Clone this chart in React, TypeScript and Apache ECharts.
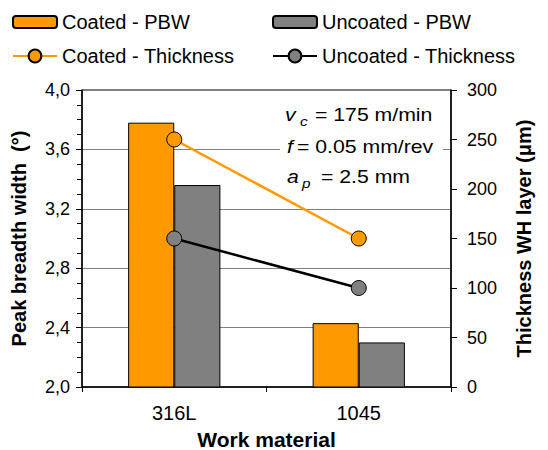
import React, { useEffect, useRef } from "react";
import * as echarts from "echarts";

const categories = ["316L", "1045"];
const coatedPBW = [3.78, 2.43];
const uncoatedPBW = [3.36, 2.3];
const coatedThickness = [250, 150];
const uncoatedThickness = [150, 100];

const FONT = "'Liberation Sans', Arial, sans-serif";
const ORANGE = "#FF9900";
const GRAY = "#808080";
const SX = 1.18;

export default function App() {
  const ref = useRef<HTMLDivElement>(null);
  useEffect(() => {
    if (!ref.current) return;
    document.body.style.margin = "0";
    const chart = echarts.init(ref.current, undefined, { renderer: "svg" });
    const legendText = { fontFamily: FONT, fontSize: 20, color: "#000" };
    const mkLegend = (name: string, left: number, top: number, h: number) => ({
      data: [name],
      left,
      top,
      padding: 0,
      itemWidth: 44,
      itemHeight: h,
      itemGap: 0,
      selectedMode: false,
      textStyle: legendText,
    });
    const txt = (x: number, y: number, text: string, font: string) => ({
      type: "text",
      x,
      y,
      scaleX: SX,
      z: 10,
      style: { text, font, fill: "#000", verticalAlign: "middle", align: "left" },
    });
    chart.setOption({
      animation: false,
      textStyle: { fontFamily: FONT },
      legend: [
        mkLegend("Coated - PBW", 12, 12, 12),
        mkLegend("Uncoated - PBW", 272, 12, 12),
        mkLegend("Coated - Thickness", 12, 46, 16),
        mkLegend("Uncoated - Thickness", 272, 46, 16),
      ],
      grid: {
        left: 82,
        right: 97,
        top: 90,
        bottom: 63,
        outerBoundsMode: "none",
        containLabel: false,
        show: true,
        borderColor: "#000",
        borderWidth: 1,
        backgroundColor: "transparent",
      },
      xAxis: {
        type: "category",
        data: categories,
        name: "Work material",
        nameLocation: "middle",
        nameGap: 43,
        nameTextStyle: { fontFamily: FONT, fontSize: 21, lineHeight: 19, fontWeight: "bold", color: "#000" },
        axisLine: { lineStyle: { color: "#000", width: 1.5 } },
        axisTick: { show: true, length: 5, lineStyle: { color: "#000" } },
        axisLabel: { fontFamily: FONT, fontSize: 20, color: "#000", margin: 16 },
      },
      yAxis: [
        {
          type: "value",
          min: 2,
          max: 4,
          interval: 0.4,
          name: "Peak breadth width  (°)",
          nameLocation: "middle",
          nameRotate: 90,
          nameGap: 53,
          nameTextStyle: { fontFamily: FONT, fontSize: 20, fontWeight: "bold", color: "#000" },
          axisLine: { show: true, lineStyle: { color: "#000", width: 1.5 } },
          axisTick: { show: true, length: 6, lineStyle: { color: "#000" } },
          minorTick: { show: true, splitNumber: 4, length: 5, lineStyle: { color: "#000" } },
          axisLabel: {
            fontFamily: FONT,
            fontSize: 18,
            color: "#000",
            margin: 12,
            formatter: (v: number) => v.toFixed(1).replace(".", ","),
          },
          splitLine: { show: true, lineStyle: { color: GRAY, width: 1 } },
        },
        {
          type: "value",
          min: 0,
          max: 300,
          interval: 50,
          position: "right",
          name: "Thickness WH layer (μm)",
          nameLocation: "middle",
          nameRotate: 90,
          nameGap: 63,
          nameTextStyle: { fontFamily: FONT, fontSize: 20, fontWeight: "bold", color: "#000" },
          axisLine: { show: true, lineStyle: { color: "#000", width: 1.5 } },
          axisTick: { show: true, length: 6, lineStyle: { color: "#000" } },
          axisLabel: { fontFamily: FONT, fontSize: 18, color: "#000", margin: 16 },
          splitLine: { show: false },
        },
      ],
      series: [
        {
          name: "Coated - PBW",
          type: "bar",
          data: coatedPBW,
          barGap: "0%",
          barCategoryGap: "50%",
          itemStyle: { color: ORANGE, borderColor: "#000", borderWidth: 1 },
          z: 2,
        },
        {
          name: "Uncoated - PBW",
          type: "bar",
          data: uncoatedPBW,
          barGap: "0%",
          barCategoryGap: "50%",
          itemStyle: { color: GRAY, borderColor: "#000", borderWidth: 1 },
          z: 2,
        },
        {
          name: "Coated - Thickness",
          type: "line",
          yAxisIndex: 1,
          data: coatedThickness,
          symbol: "circle",
          symbolSize: 15,
          lineStyle: { color: ORANGE, width: 2.5 },
          itemStyle: { color: ORANGE, borderColor: "#000", borderWidth: 1 },
          z: 5,
        },
        {
          name: "Uncoated - Thickness",
          type: "line",
          yAxisIndex: 1,
          data: uncoatedThickness,
          symbol: "circle",
          symbolSize: 15,
          lineStyle: { color: "#000", width: 2.5 },
          itemStyle: { color: GRAY, borderColor: "#000", borderWidth: 1 },
          z: 5,
        },
      ],
      graphic: [
        {
          type: "rect",
          shape: { x: 280, y: 137, width: 163, height: 21 },
          style: { fill: "#fff" },
          z: 9,
        },
        txt(285, 115, "v", `italic 18px ${FONT}`),
        txt(300, 121, "c", `italic 13px ${FONT}`),
        txt(315, 115, "= 175 m/min", `18px ${FONT}`),
        txt(287, 147, "f", `italic 18px ${FONT}`),
        txt(297, 147, "= 0.05 mm/rev", `18px ${FONT}`),
        txt(287, 177, "a", `italic 18px ${FONT}`),
        txt(302, 183, "p", `italic 13px ${FONT}`),
        txt(321, 177, "= 2.5 mm", `18px ${FONT}`),
      ],
    });
    return () => chart.dispose();
  }, []);
  return <div ref={ref} style={{ width: 548, height: 450 }} />;
}
